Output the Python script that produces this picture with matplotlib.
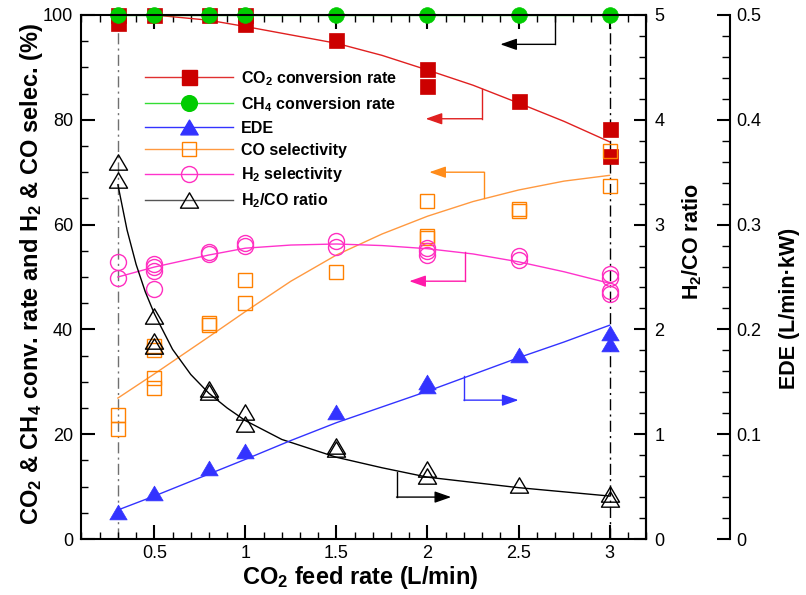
from matplotlib import pyplot as plt
from matplotlib.lines import Line2D
from matplotlib.path import Path
from matplotlib.ticker import MultipleLocator

# measured points (repeat runs share the same feed rate)
co2_x = [0.3, 0.3, 0.5, 0.8, 1.0, 1.0, 1.5, 2.0, 2.0, 2.5, 3.0, 3.0]
co2_conv = [100.0, 98.5, 100.0, 100.0, 100.0, 98.3, 95.2, 89.7, 86.4, 83.6, 78.2, 73.1]

ch4_x = [0.3, 0.5, 0.8, 1.0, 1.5, 2.0, 2.5, 3.0]
ch4_conv = [100.0, 100.0, 100.0, 100.0, 100.0, 100.0, 100.0, 100.0]

ede_x = [0.3, 0.5, 0.8, 1.0, 1.5, 2.0, 2.0, 2.5, 3.0, 3.0]
ede = [0.026, 0.044, 0.068, 0.084, 0.121, 0.150, 0.146, 0.176, 0.197, 0.186]

co_x = [0.3, 0.3, 0.5, 0.5, 0.5, 0.5, 0.8, 0.8, 1.0, 1.0, 1.5,
        2.0, 2.0, 2.0, 2.5, 2.5, 3.0, 3.0]
co_sel = [23.6, 20.9, 36.8, 36.0, 30.8, 28.8, 41.3, 40.8, 49.4, 45.1, 50.9,
          64.5, 57.9, 57.4, 63.0, 62.6, 74.1, 67.4]

h2_x = [0.3, 0.3, 0.5, 0.5, 0.5, 0.5, 0.8, 0.8, 1.0, 1.0, 1.5, 1.5,
        2.0, 2.0, 2.0, 2.5, 2.5, 3.0, 3.0, 3.0, 3.0]
h2_sel = [52.8, 49.8, 52.5, 51.9, 51.1, 47.7, 54.8, 54.3, 56.4, 55.9, 56.8, 55.7,
          55.5, 54.9, 54.2, 54.0, 53.2, 50.6, 49.8, 47.3, 46.8]

ratio_x = [0.3, 0.3, 0.5, 0.5, 0.5, 0.8, 0.8, 1.0, 1.0, 1.5, 1.5, 2.0, 2.0, 2.5, 3.0, 3.0]
h2_co = [3.60, 3.43, 2.13, 1.89, 1.84, 1.43, 1.40, 1.21, 1.10, 0.89, 0.86, 0.67, 0.60, 0.52, 0.43, 0.38]

# trend lines
fit_x = [0.3, 0.5, 0.8, 1.0, 1.25, 1.5, 1.75, 2.0, 2.25, 2.5, 2.75, 3.0]
co2_fit = [100.3, 100.0, 99.0, 97.8, 96.2, 94.6, 92.3, 89.5, 86.6, 83.2, 79.7, 75.8]
ch4_fit = [100.0] * len(fit_x)
co_fit = [26.9, 31.5, 38.6, 43.4, 49.2, 54.2, 58.2, 61.6, 64.4, 66.6, 68.3, 69.4]
h2_fit = [50.0, 51.9, 54.2, 55.5, 56.1, 56.3, 56.0, 55.4, 54.4, 52.9, 51.0, 48.8]
ede_fit = [0.0277, 0.041, 0.062, 0.076, 0.094, 0.111, 0.126, 0.141, 0.157, 0.173, 0.188, 0.204]
ratio_fit_x = [0.3, 0.35, 0.4, 0.45, 0.5, 0.6, 0.7, 0.8, 0.9, 1.0, 1.2, 1.5, 1.75, 2.0, 2.5, 3.0]
ratio_fit = [3.38, 2.95, 2.62, 2.36, 2.15, 1.81, 1.57, 1.39, 1.25, 1.13, 0.95, 0.78, 0.68, 0.59, 0.49, 0.41]

x_ticks = [0.5, 1, 1.5, 2, 2.5, 3]
x_tick_labels = ["0.5", "1", "1.5", "2", "2.5", "3"]
range_marks = [0.3, 3.0]

# which-axis arrows: colour, start on curve, corner, tip (left-axis units)
arrows = [
    ("black", (2.70, 100.0), (2.70, 94.4), (2.40, 94.4)),
    ("#e02020", (2.30, 85.9), (2.30, 80.2), (1.99, 80.2)),
    ("#ff8c1a", (2.31, 65.0), (2.31, 70.0), (2.01, 70.0)),
    ("#ff1aaa", (2.205, 54.8), (2.205, 49.2), (1.90, 49.2)),
    ("#3333ff", (2.20, 31.1), (2.20, 26.5), (2.50, 26.5)),
    ("black", (1.83, 12.8), (1.83, 8.0), (2.13, 8.0)),
]

# slightly flattened triangle, closed so the hollow version draws all three edges
TRI = Path([(-1, -0.85), (1, -0.85), (0, 0.85), (0, 0)], closed=True)

LABEL_SIZE = 17
RIGHT_LABEL_SIZE = 15.5

plt.rcParams["font.family"] = ["Liberation Sans", "DejaVu Sans"]
plt.rcParams["mathtext.fontset"] = "custom"
plt.rcParams["mathtext.rm"] = "Liberation Sans"
plt.rcParams["mathtext.bf"] = "Liberation Sans:bold"
plt.rcParams["mathtext.default"] = "bf"


def style_ticks(axis_obj, major_len, minor_len, pad):
    axis_obj.tick_params(which="major", direction="in", length=major_len, width=1.5,
                         labelsize=13, pad=pad)
    axis_obj.tick_params(which="minor", direction="in", length=minor_len, width=1.0)


def main() -> None:
    fig = plt.figure(figsize=(8.06, 5.95), dpi=100)
    ax = fig.add_axes([0.1011, 0.0941, 0.7004, 0.8807])
    ax_ratio = ax.twinx()
    ax_ede = ax.twinx()

    for a in (ax_ratio, ax_ede):
        for side in ("left", "top", "bottom"):
            a.spines[side].set_visible(False)
    ax_ede.spines["right"].set_position(("outward", 60.5))
    for a in (ax, ax_ratio, ax_ede):
        for sp in a.spines.values():
            sp.set_linewidth(1.5)

    for xv, col in zip(range_marks, ["#707070", "black"]):
        ax.axvline(xv, color=col, lw=1.0, dashes=(8, 3, 1.5, 3), zorder=1)

    # trend lines
    ax.plot(fit_x, co2_fit, color="#e02020", lw=1.0, zorder=2)
    ax.plot(fit_x, ch4_fit, color="#33dd33", lw=1.0, zorder=2)
    ax.plot(fit_x, co_fit, color="#ff9940", lw=1.0, zorder=2)
    ax.plot(fit_x, h2_fit, color="#ff33cc", lw=1.0, zorder=2)
    ax_ratio.plot(ratio_fit_x, ratio_fit, color="black", lw=1.0, zorder=2)
    ax_ede.plot(fit_x, ede_fit, color="#3333ff", lw=1.0, zorder=2)

    # measured points
    ax.plot(co2_x, co2_conv, ls="none", marker="s", ms=10.8, mfc="#cc0000",
            mec="#cc0000", mew=0.5, clip_on=False, zorder=2.2)
    ax.plot(ch4_x, ch4_conv, ls="none", marker="o", ms=11.3, mfc="#00cc00",
            mec="#00cc00", mew=0.5, clip_on=False, zorder=2.3)
    ax.plot(co_x, co_sel, ls="none", marker="s", ms=10.3, mfc="none",
            mec="#ff8000", mew=1.0, zorder=2.2)
    ax.plot(h2_x, h2_sel, ls="none", marker="o", ms=11.5, mfc="none",
            mec="#ff2fc0", mew=1.0, zorder=2.2)
    ax_ratio.plot(ratio_x, h2_co, ls="none", marker=TRI, ms=13.0, mfc="none",
                  mec="black", mew=1.0, zorder=2.2)
    ax_ede.plot(ede_x, ede, ls="none", marker=TRI, ms=12.5, mfc="#3333ff",
                mec="#3333ff", mew=0.5, zorder=2.2)

    for col, start, corner, tip in arrows:
        ax.plot([start[0], corner[0]], [start[1], corner[1]], color=col, lw=1.0, zorder=2)
        ax.annotate("", xy=tip, xytext=corner,
                    arrowprops=dict(arrowstyle="-|>,head_length=1.0,head_width=0.35",
                                    color=col, lw=1.0, shrinkA=0, shrinkB=0,
                                    mutation_scale=10))

    ax.set_xlim(0.1, 3.2)
    ax.set_ylim(0, 100)
    ax_ratio.set_ylim(0, 5)
    ax_ede.set_ylim(0, 0.5)

    ax.set_xticks(x_ticks)
    ax.set_xticklabels(x_tick_labels)
    ax.xaxis.set_minor_locator(MultipleLocator(0.1))
    ax.yaxis.set_major_locator(MultipleLocator(20))
    ax.yaxis.set_minor_locator(MultipleLocator(5))
    ax_ratio.yaxis.set_major_locator(MultipleLocator(1))
    ax_ratio.yaxis.set_minor_locator(MultipleLocator(0.2))
    ax_ede.yaxis.set_major_locator(MultipleLocator(0.1))
    ax_ede.yaxis.set_minor_locator(MultipleLocator(0.02))
    ax_ratio.yaxis.set_major_formatter(plt.FuncFormatter(lambda v, p: f"{v:g}"))
    ax_ede.yaxis.set_major_formatter(plt.FuncFormatter(lambda v, p: f"{v:g}"))
    ax.yaxis.set_major_formatter(plt.FuncFormatter(lambda v, p: f"{v:g}"))

    style_ticks(ax, 10, 5, 6)
    ax.tick_params(axis="x", which="both", top=True, pad=4)
    ax.tick_params(axis="y", which="both", right=False)
    style_ticks(ax_ratio, 9, 4.8, 6)
    style_ticks(ax_ede, 9.5, 5.5, 4.5)

    ax.set_xlabel(r"CO$_2$ feed rate (L/min)", fontsize=LABEL_SIZE, fontweight="bold",
                  va="center", ha="center")
    ax.xaxis.set_label_coords(0.4934, -0.0725)
    ax.set_ylabel(r"CO$_2$ & CH$_4$ conv. rate and H$_2$ & CO selec. (%)",
                  fontsize=LABEL_SIZE, fontweight="bold", va="center", ha="center")
    ax.yaxis.set_label_coords(-0.0877, 0.5057)
    ax_ratio.set_ylabel(r"H$_2$/CO ratio", fontsize=RIGHT_LABEL_SIZE, fontweight="bold",
                        va="center", ha="center")
    ax_ratio.yaxis.set_label_coords(1.0815, 0.567)
    ax_ede.set_ylabel("EDE (L/min\u00b7kW)", fontsize=RIGHT_LABEL_SIZE, fontweight="bold",
                      va="center", ha="center")
    ax_ede.yaxis.set_label_coords(1.255, 0.441)

    handles = [
        Line2D([], [], color="#e03030", lw=1.0, marker="s", ms=10.8,
               mfc="#cc0000", mec="#cc0000"),
        Line2D([], [], color="#33dd33", lw=1.0, marker="o", ms=11.3,
               mfc="#00cc00", mec="#00cc00"),
        Line2D([], [], color="#3333ff", lw=1.0, marker=TRI, ms=12.5,
               mfc="#3333ff", mec="#3333ff"),
        Line2D([], [], color="#ff9940", lw=1.0, marker="s", ms=10.3,
               mfc="none", mec="#ff8000", mew=1.0),
        Line2D([], [], color="#ff33cc", lw=1.0, marker="o", ms=11.5,
               mfc="none", mec="#ff2fc0", mew=1.0),
        Line2D([], [], color="#555555", lw=1.0, marker=TRI, ms=13.0,
               mfc="none", mec="black", mew=1.0),
    ]
    labels = [
        r"CO$_2$ conversion rate",
        r"CH$_4$ conversion rate",
        "EDE",
        "CO selectivity",
        r"H$_2$ selectivity",
        r"H$_2$/CO ratio",
    ]
    ax_ede.legend(handles, labels, loc="upper left", bbox_to_anchor=(0.1125, 0.897),
                  frameon=False, borderpad=0, borderaxespad=0, handlelength=5.5,
                  handletextpad=0.5, labelspacing=0.45, numpoints=1,
                  prop={"weight": "bold", "size": 11.5})

    fig.savefig("out.png", dpi=100)
    plt.close(fig)


if __name__ == "__main__":
    main()
